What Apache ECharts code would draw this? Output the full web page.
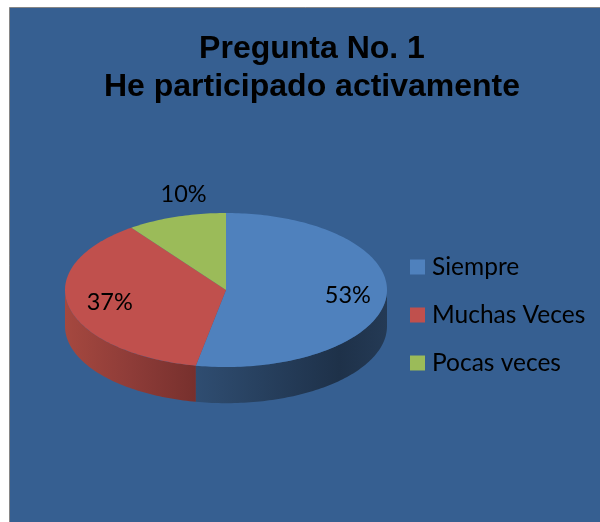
<!DOCTYPE html>
<html><head><meta charset="utf-8">
<style>html,body{margin:0;padding:0;background:#fff}#c{width:600px;height:522px}</style>
<script src="https://cdn.jsdelivr.net/npm/echarts@6/dist/echarts.min.js"></script>
</head><body><div id="c"></div>
<script>
const categories = ['Siempre', 'Muchas Veces', 'Pocas veces'];
const values = [53, 37, 10];
const topColors = ['#4f81bd', '#c0504d', '#9bbb59'];
const sideStops = [
  ['#2f4d71', '#1e3149', '#243a55'],
  ['#a5483f', '#8e3c38', '#77302d'],
  ['#7d9847', '#7d9847', '#7d9847']
];
const titleLines = ['Pregunta No. 1', 'He participado activamente'];

const DEPTH = 0.47;
const total = values.reduce((a, b) => a + b, 0);
const starts = values.map((_, i) => values.slice(0, i).reduce((a, b) => a + b, 0) / total * 2 * Math.PI);
const pt = (a, dy) => [Math.sin(a), Math.cos(a) - (dy || 0)];

function arcPts(a0, a1, dy) {
  const n = Math.max(2, Math.ceil((a1 - a0) / 0.02));
  const out = [];
  for (let k = 0; k <= n; k++) out.push(pt(a0 + (a1 - a0) * k / n, dy));
  return out;
}

function makeRender(i) {
  return function (params, api) {
    const v = api.value(0);
    const a0 = starts[i], a1 = a0 + v / total * 2 * Math.PI;
    const toPx = p => api.coord(p);
    const children = [];
    const s0 = Math.max(a0, Math.PI / 2), s1 = Math.min(a1, 3 * Math.PI / 2);
    if (s1 > s0) {
      const pts = arcPts(s0, s1, 0).concat(arcPts(s0, s1, DEPTH).reverse()).map(toPx);
      const stops = sideStops[i];
      const forward = i === 0;
      children.push({
        type: 'polygon', shape: { points: pts },
        style: {
          fill: new echarts.graphic.LinearGradient(0, 0, 1, 0, forward
            ? [{ offset: 0, color: stops[0] }, { offset: 0.75, color: stops[1] }, { offset: 1, color: stops[2] }]
            : [{ offset: 0, color: stops[0] }, { offset: 0.5, color: stops[1] }, { offset: 1, color: stops[2] }])
        }
      });
    }
    const topPts = [[0, 0]].concat(arcPts(a0, a1, 0)).map(toPx);
    children.push({ type: 'polygon', shape: { points: topPts }, style: { fill: topColors[i] } });
    const mid = (a0 + a1) / 2;
    const outside = v / total < 0.2;
    const lp = toPx([Math.sin(mid) * (outside ? 0.885 : 0.75) + 0.01, Math.cos(mid) * (outside ? 1.31 : 0.75)]);
    children.push({
      type: 'text', x: lp[0], y: lp[1],
      style: { text: Math.round(v / total * 100) + '%', font: '23.5px Lato', fill: '#000', align: 'center', verticalAlign: 'middle' }
    });
    return { type: 'group', children };
  };
}

const chart = echarts.init(document.getElementById('c'), null, { renderer: 'canvas' });
chart.setOption({
  animation: false,
  backgroundColor: '#fff',
  graphic: [{
    type: 'rect', z: -10, silent: true,
    shape: { x: 9.5, y: 7.5, width: 640, height: 560 },
    style: { fill: '#365f91', stroke: '#868686', lineWidth: 1 }
  }],
  title: {
    text: titleLines.join('\n'), left: 307, top: 25, textAlign: 'center',
    textStyle: { fontFamily: 'Liberation Sans', fontWeight: 'bold', fontSize: 32, lineHeight: 38, color: '#000' }
  },
  legend: {
    orient: 'vertical', left: 410, top: 254, itemWidth: 15, itemHeight: 15, itemGap: 22, padding: 0,
    data: categories.map(name => ({ name, icon: 'rect' })),
    textStyle: { fontFamily: 'Lato', fontSize: 24.5, color: '#000', lineHeight: 26, padding: [0, 0, 0, 2] }
  },
  grid: { left: 65, top: 213, width: 322, height: 154 },
  xAxis: { type: 'value', min: -1, max: 1, show: false },
  yAxis: { type: 'value', min: -1, max: 1, show: false },
  series: categories.map((name, i) => ({
    type: 'custom', name, clip: false,
    coordinateSystem: 'cartesian2d',
    renderItem: makeRender(i),
    itemStyle: { color: topColors[i] },
    encode: { x: 0, y: 0 },
    data: [[values[i]]]
  }))
});
</script></body></html>
